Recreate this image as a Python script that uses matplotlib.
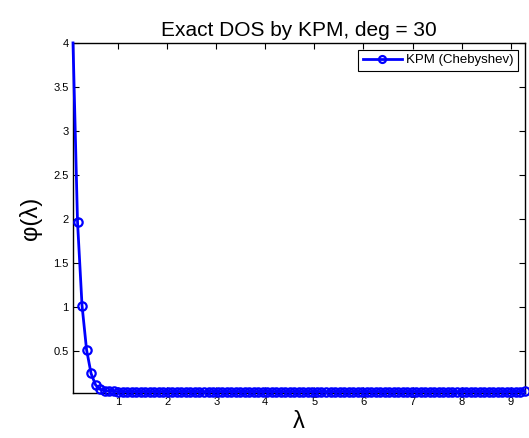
import numpy as np
import matplotlib
matplotlib.use("Agg")
import matplotlib.pyplot as plt

plt.rcParams['font.family'] = ['Liberation Sans', 'DejaVu Sans']

# evaluation grid (lambda) and KPM density values
lam = np.linspace(0.083, 9.285, 101)
head_vals = [4.00, 1.97, 1.02, 0.52, 0.25, 0.12, 0.07, 0.055, 0.05, 0.047]
tail_vals = [0.045] * 90
last_val = [0.05]
phi = np.array(head_vals + tail_vals + last_val)

xticks = [1, 2, 3, 4, 5, 6, 7, 8, 9]
yticks = [0.5, 1, 1.5, 2, 2.5, 3, 3.5, 4]
ytick_labels = ['0.5', '1', '1.5', '2', '2.5', '3', '3.5', '4']

fig = plt.figure(figsize=(5.29, 4.38), dpi=100)
ax = fig.add_axes([0.138, 0.103, 0.854, 0.799])

# first marker sits on the top edge and is not drawn in the original
ax.plot(lam, phi, '-o', color=(0, 0, 1), lw=2, ms=6, mfc='none', mew=1.6,
        markevery=list(range(1, len(lam))), clip_on=False, zorder=3)
# legend entry
ax.plot([], [], '-o', color=(0, 0, 1), lw=2, ms=5, mfc='none', mew=1.6,
        label='KPM (Chebyshev)')

ax.set_xlim(lam.min(), lam.max())
ax.set_ylim(0.03, 4.0)
ax.set_xticks(xticks)
ax.set_yticks(yticks)
ax.set_yticklabels(ytick_labels)
ax.tick_params(direction='in', top=True, right=True, labelsize=8, length=4, width=0.8, pad=3)
for s in ax.spines.values():
    s.set_linewidth(1.0)

ax.set_title('Exact DOS by KPM, deg = 30', fontsize=15, pad=5)
ax.set_xlabel('λ', fontsize=17, labelpad=3)
ax.set_ylabel('φ(λ)', fontsize=17, labelpad=8)

leg = ax.legend(loc='upper right', fontsize=9.5, fancybox=False, edgecolor='black',
                framealpha=1, borderaxespad=0.5, handlelength=3.0, handletextpad=0.3,
                borderpad=0.35)
leg.get_frame().set_linewidth(0.8)

fig.savefig('out.png', dpi=100)
